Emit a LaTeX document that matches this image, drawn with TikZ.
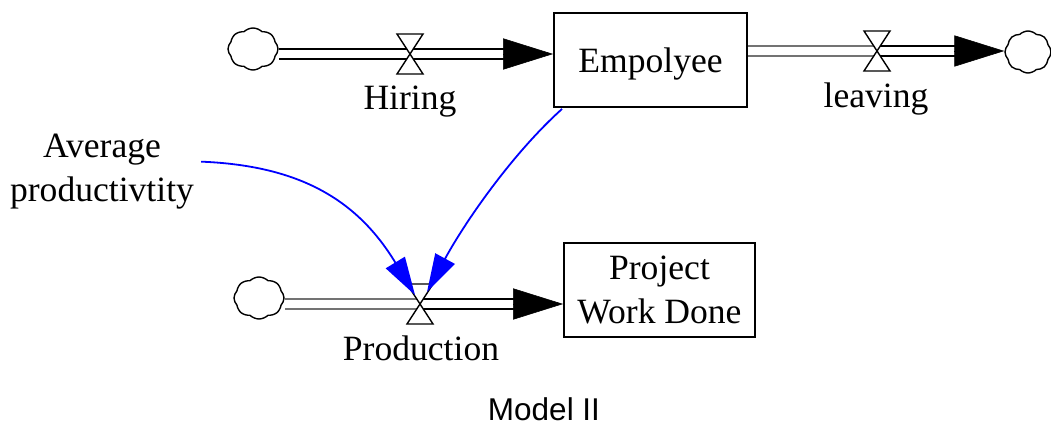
\documentclass[tikz,border=0pt]{standalone}
\usepackage{fontspec}
\setmainfont{Liberation Serif}
\setsansfont{Liberation Sans}
\usepackage{tikz}
\usetikzlibrary{arrows.meta, shapes.symbols}

\begin{document}
\begin{tikzpicture}[x=0.025cm, y=-0.025cm,
    every node/.style={font=\fontsize{25.3}{31.9}\selectfont},
    stock/.style={draw, line width=0.045cm, minimum height=2.35cm, align=center, inner sep=0pt},
    lbl/.style={anchor=base, inner sep=0pt},
    src/.style={cloud, cloud puffs=8, cloud puff arc=90, cloud ignores aspect, draw,
        line width=0.035cm, minimum width=1.25cm, minimum height=1.05cm, inner sep=0pt},
    pipe/.style={double=white, double distance=0.2cm, line width=0.05cm},
    flowtip/.style={-{Triangle[length=1.25cm, width=0.78cm]}},
    infl/.style={blue, line width=0.045cm, -{Triangle[length=0.95cm, width=0.55cm]}},
    valve/.pic={\draw[line width=0.035cm, fill=white] (-13,-20) -- (13,-20) -- (-13,20) -- (13,20) -- cycle;}]
    \useasboundingbox (0,0) rectangle (1051,425);

    % Mây, kho và van
    \node[src] (srcA) at (253,49) {};
    \node[src, minimum width=1.15cm] (sinkB) at (1028,52) {};
    \node[src] (srcC) at (259,298) {};
    \coordinate (hirev) at (410,54);
    \coordinate (leavev) at (877,51);
    \coordinate (prodv) at (420,304);
    \node[stock, minimum width=4.825cm, text depth=0pt] (emp) at (650.5,60) {Empolyee};
    \node[stock, minimum width=4.775cm] (pwd) at (659.5,290) {Project\\Work Done};

    % Các dòng chảy
    \coordinate (empin) at (emp.west |- hirev);
    \coordinate (sinkin) at (sinkB.west |- leavev);
    \coordinate (pwdin) at (pwd.west |- prodv);
    \draw[pipe, shorten >=1.2cm] (srcA.east |- hirev) -- (empin);
    \draw[flowtip] ([xshift=-1.25cm]empin) -- (empin);
    \draw[pipe, black!55] (emp.east |- leavev) -- (leavev);
    \draw[pipe, shorten >=1.2cm] (leavev) -- (sinkin);
    \draw[flowtip] ([xshift=-1.25cm]sinkin) -- (sinkin);
    \draw[pipe, black!55] (srcC.east |- prodv) -- (prodv);
    \draw[pipe, shorten >=1.2cm] (prodv) -- (pwdin);
    \draw[flowtip] ([xshift=-1.25cm]pwdin) -- (pwdin);
    \pic at (hirev) {valve};
    \pic at (leavev) {valve};
    \pic at (prodv) {valve};

    % Nhãn
    \node[lbl] (hiring) at (410,110) {Hiring};
    \node[lbl] (leaving) at (876,108) {leaving};
    \node[lbl] (production) at (421,360) {Production};
    \node[lbl, align=center] (avg) at (102,202) {Average\\productivtity};

    % Các mũi tên ảnh hưởng
    \draw[infl] ([shift={(7,-10)}]avg.east) .. controls +(100,4) and +(-57,-94) .. ([shift={(-5,-9)}]prodv);
    \draw[infl] ([shift={(9,1)}]emp.south west) .. controls +(-50,45) and +(38,-70) .. ([shift={(7,-12)}]prodv);

    \node[lbl, font=\sffamily\fontsize{22.4}{27}\selectfont] (cap) at (544,420) {Model II};
\end{tikzpicture}
\end{document}
